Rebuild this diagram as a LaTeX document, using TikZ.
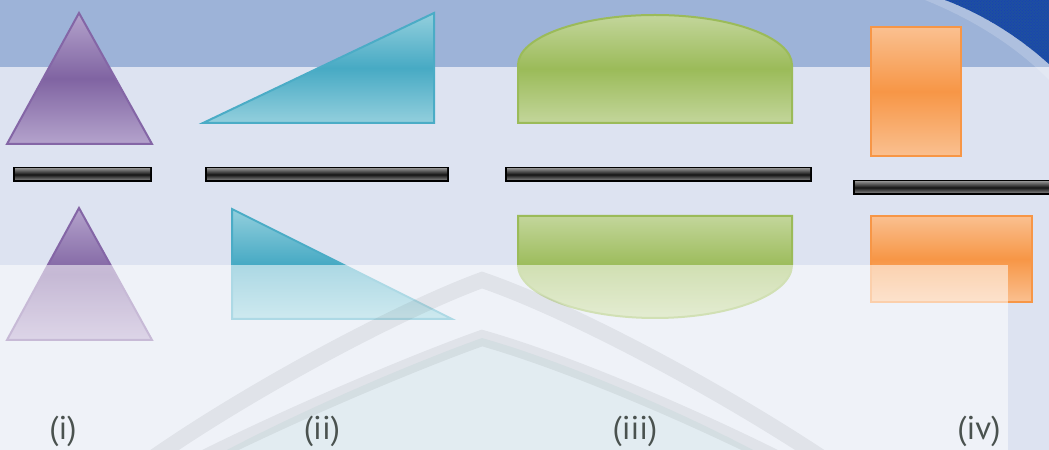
\documentclass[tikz,border=0pt]{standalone}
\usepackage{fontspec}
\setmainfont{PT Sans}
\usetikzlibrary{patterns}
\definecolor{bgtop}{HTML}{9DB3D8}
\definecolor{bgmain}{HTML}{DDE3F1}
\definecolor{purL}{HTML}{B4A3CC}
\definecolor{purM}{HTML}{8064A2}
\definecolor{purE}{HTML}{8466A6}
\definecolor{cyaL}{HTML}{93CFDD}
\definecolor{cyaM}{HTML}{47AAC4}
\definecolor{cyaE}{HTML}{4BACC6}
\definecolor{griL}{HTML}{C3D69B}
\definecolor{griM}{HTML}{9BBB59}
\definecolor{griE}{HTML}{9BBB59}
\definecolor{oraL}{HTML}{FAC090}
\definecolor{oraM}{HTML}{F79646}
\definecolor{oraE}{HTML}{F79646}
\definecolor{cornerblue}{HTML}{1E50A0}
\definecolor{labelgray}{HTML}{4A524F}
\tikzset{
  purshape/.style={draw=purE, line width=2bp, top color=purL, bottom color=purL, middle color=purM},
  cyashape/.style={draw=cyaE, line width=2bp, top color=cyaL, bottom color=cyaL, middle color=cyaM},
  grishape/.style={draw=griE, line width=2bp, top color=griL, bottom color=griL, middle color=griM},
  orashape/.style={draw=oraE, line width=2bp, top color=oraL, bottom color=oraL, middle color=oraM},
  barframe/.style={fill=black},
  barinner/.style={top color=black!50, bottom color=black!50, middle color=black!92},
  wmband/.style={draw=black, draw opacity=0.06, line width=16bp},
  lab/.style={text=labelgray, font=\fontsize{33}{33}\selectfont, inner sep=0pt}
}
\begin{document}
\begin{tikzpicture}[x=1bp,y=-1bp]
\useasboundingbox (0,0) rectangle (1049,450);
% background
\fill[bgmain] (0,0) rectangle (1049,450);
\fill[bgtop] (0,0) rectangle (1049,67);
% top-right corner decoration
\fill[white, opacity=0.18] (925,0) .. controls (970,18) and (1015,45) .. (1049,80) -- (1049,0) -- cycle;
\fill[cornerblue] (945,0) .. controls (985,15) and (1020,38) .. (1049,64) -- (1049,0) -- cycle;
\fill[pattern=crosshatch dots, pattern color=blue!30!cornerblue] (945,0) .. controls (985,15) and (1020,38) .. (1049,64) -- (1049,0) -- cycle;

% (i) purple triangles
\path[purshape] (79,13) -- (152,144) -- (7,144) -- cycle;
\path[purshape] (79,208) -- (152,340) -- (7,340) -- cycle;
% (ii) cyan right triangles
\path[cyashape] (203,123) -- (434,13) -- (434,123) -- cycle;
\path[cyashape] (232,209) -- (452,319) -- (232,319) -- cycle;
% (iii) green segments
\path[grishape] (518,123) -- (518,65) arc[start angle=180, end angle=360, x radius=137, y radius=50] -- (792,123) -- cycle;
\path[grishape] (518,216) -- (792,216) -- (792,265) arc[start angle=0, end angle=180, x radius=137, y radius=53] -- cycle;
% (iv) orange rectangles
\path[orashape] (871,27) rectangle (961,156);
\path[orashape] (871,216) rectangle (1032,302);

% fraction bars
\fill[barframe] (13,167) rectangle (152,182);
\shade[barinner] (15,169) rectangle (150,180);
\fill[barframe] (205,167) rectangle (449,182);
\shade[barinner] (207,169) rectangle (447,180);
\fill[barframe] (505,167) rectangle (812,182);
\shade[barinner] (507,169) rectangle (810,180);
\fill[barframe] (853,180) rectangle (1049,195);
\shade[barinner] (855,182) rectangle (1049,193);

% lower translucent panel with watermark
\fill[white, opacity=0.55] (0,265) rectangle (1008,450);
\begin{scope}
\clip (0,265) rectangle (1008,450);
\fill[teal, opacity=0.05] (208,460) .. controls (300,410) and (420,360) .. (482,338) .. controls (560,360) and (680,410) .. (772,460) -- cycle;
\draw[wmband] (150,460) .. controls (250,390) and (400,310) .. (482,280) .. controls (570,310) and (720,390) .. (825,460);
\draw[wmband] (200,460) .. controls (300,410) and (420,360) .. (482,338) .. controls (560,360) and (680,410) .. (780,460);
\end{scope}

% labels
\node[lab] (li) at (63,431) {(i)};
\node[lab] (lii) at (322,431) {(ii)};
\node[lab] (liii) at (635,431) {(iii)};
\node[lab] (liv) at (979,431) {(iv)};
\end{tikzpicture}
\end{document}
